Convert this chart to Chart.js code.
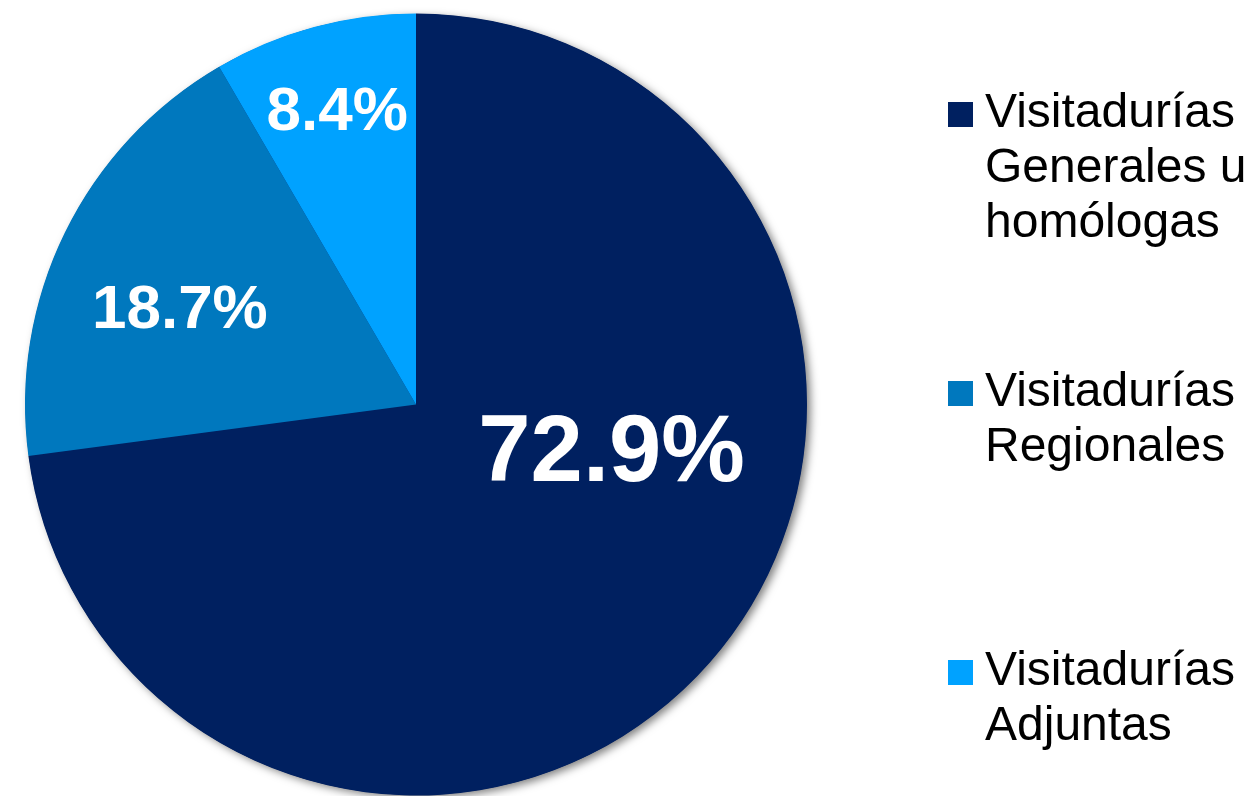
<!DOCTYPE html>
<html>
<head>
<meta charset="utf-8">
<script src="https://cdn.jsdelivr.net/npm/chart.js@4/dist/chart.umd.min.js"></script>
<style>
  html, body { margin: 0; padding: 0; background: #fff; }
  canvas { display: block; }
</style>
</head>
<body>
<canvas id="pastel" width="1250" height="796"></canvas>
<script>
// datos
var categorias = [
    ["Visitadurías", "Generales u", "homólogas"],
    ["Visitadurías", "Regionales"],
    ["Visitadurías", "Adjuntas"]
];
var porcentajes = [72.9, 18.7, 8.4];
var colores = ['#002060', '#0078BE', '#00A2FF'];

// donde va cada etiqueta (fraccion del radio, giro en radianes, tamano de letra)
var etiquetaDist = [0.517, 0.65, 0.772];
var etiquetaGiro = [-0.464, -0.077, 0];
var etiquetaFuente = [94, 62, 62];

var sombra = {
    id: 'sombra',
    beforeDatasetsDraw: function(chart) {
        var arc = chart.getDatasetMeta(0).data[0];
        var p = arc.getProps(['x', 'y', 'outerRadius'], true);
        var ctx = chart.ctx;
        ctx.save();
        ctx.shadowColor = 'rgba(0,0,0,0.5)';
        ctx.shadowBlur = 9;
        ctx.shadowOffsetX = 4;
        ctx.shadowOffsetY = 3;
        ctx.fillStyle = '#002060';
        ctx.beginPath();
        ctx.arc(p.x, p.y, p.outerRadius - 0.5, 0, Math.PI * 2);
        ctx.fill();
        ctx.restore();
    }
};

var etiquetas = {
    id: 'etiquetas',
    afterDatasetsDraw: function(chart) {
        var ctx = chart.ctx;
        var datos = chart.data.datasets[0].data;
        ctx.save();
        ctx.fillStyle = '#fff';
        ctx.textAlign = 'center';
        ctx.textBaseline = 'middle';
        chart.getDatasetMeta(0).data.forEach(function(arc, i) {
            var p = arc.getProps(['x', 'y', 'startAngle', 'endAngle', 'outerRadius'], true);
            var a = (p.startAngle + p.endAngle) / 2 + etiquetaGiro[i];
            var r = p.outerRadius * etiquetaDist[i];
            ctx.font = 'bold ' + etiquetaFuente[i] + 'px "Liberation Sans", Arial, sans-serif';
            ctx.fillText(datos[i].toFixed(1) + '%', p.x + Math.cos(a) * r, p.y + Math.sin(a) * r);
        });
        ctx.restore();
    }
};

var leyenda = {
    id: 'leyenda',
    afterDraw: function(chart) {
        var ctx = chart.ctx;
        var bg = chart.data.datasets[0].backgroundColor;
        ctx.save();
        ctx.font = '48px "Liberation Sans", Arial, sans-serif';
        ctx.textBaseline = 'middle';
        ctx.textAlign = 'left';
        chart.data.labels.forEach(function(lineas, i) {
            var y0 = 114 + i * 279;
            ctx.fillStyle = bg[i];
            ctx.fillRect(948, y0 - 12, 25, 25);
            ctx.fillStyle = '#000';
            lineas.forEach(function(t, j) {
                ctx.fillText(t, 985, y0 + j * 55);
            });
        });
        ctx.restore();
    }
};

var ctx = document.getElementById('pastel').getContext('2d');
var chart = new Chart(ctx, {
    type: 'pie',

    data: {
        labels: categorias,
        datasets: [{
            data: porcentajes,
            backgroundColor: colores,
            borderWidth: 0
        }]
    },

    options: {
        responsive: false,
        animation: false,
        layout: {
            padding: { left: 25, right: 443, top: 13, bottom: 0 }
        },
        plugins: {
            legend: { display: false },
            tooltip: { enabled: false }
        }
    },
    plugins: [sombra, etiquetas, leyenda]
});
</script>
</body>
</html>
